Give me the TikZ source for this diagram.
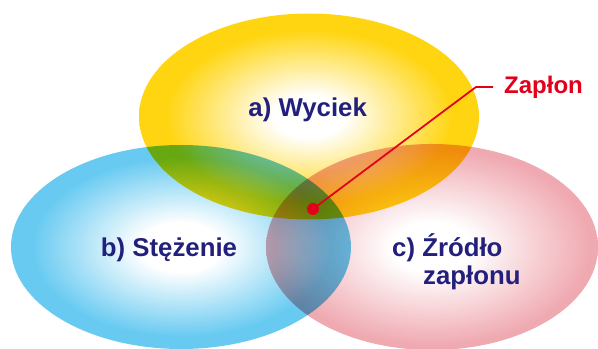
\documentclass[tikz,border=0pt]{standalone}
\usepackage{fontspec}
\setmainfont{Liberation Sans}
\usetikzlibrary{positioning}

\definecolor{sunyellow}{RGB}{255,210,0}
\definecolor{skyblue}{RGB}{92,198,240}
\definecolor{rosepink}{RGB}{238,162,170}
\definecolor{inknavy}{RGB}{34,32,124}
\definecolor{alarmred}{RGB}{226,0,26}

\pgfdeclareradialshading{yellowglow}{\pgfpoint{0bp}{0bp}}{color(0bp)=(white); color(5bp)=(white); color(21bp)=(sunyellow); color(25bp)=(sunyellow); color(50bp)=(sunyellow)}
\pgfdeclareradialshading{blueglow}{\pgfpoint{0bp}{0bp}}{color(0bp)=(white); color(6bp)=(white); color(22bp)=(skyblue); color(25bp)=(skyblue); color(50bp)=(skyblue)}
\pgfdeclareradialshading{pinkglow}{\pgfpoint{0bp}{0bp}}{color(0bp)=(white); color(6bp)=(white); color(24bp)=(rosepink); color(25bp)=(rosepink); color(50bp)=(rosepink)}

\tikzset{
  blob/.style={blend mode=multiply, opacity=0.93},
  tag/.style={text=inknavy, font=\bfseries\fontsize{22}{26}\selectfont},
  alarm/.style={text=alarmred, font=\bfseries\fontsize{20.5}{24}\selectfont}
}

\begin{document}
\begin{tikzpicture}
    \useasboundingbox (0,0) rectangle (17.94,10.47);

    % Three overlapping fields
    \shade[blob, shading=blueglow] (5.43,3.06) ellipse (5.1 and 3.06);
    \shade[blob, shading=yellowglow] (9.27,6.975) ellipse (5.1 and 3.09);
    \shade[blob, shading=pinkglow] (12.96,3.06) ellipse (4.98 and 3.09);

    % Labels
    \node[tag, anchor=base] (leak) at (9.23,6.96) {a) Wyciek};
    \node[tag, anchor=base] (conc) at (5.07,2.76) {b) Stężenie};
    \node[tag, anchor=base west, inner sep=0pt] (source) at (11.76,2.76) {c) Źródło};
    \node[tag, anchor=base west, inner sep=0pt] (source2) at (12.69,1.92) {zapłonu};

    % Ignition point
    \node[circle, fill=alarmred, inner sep=0pt, minimum size=0.36cm] (dot) at (9.39,4.2) {};
    \coordinate (bend) at (14.28,7.86);
    \node[alarm, right=0.72cm of bend] (ignition) {Zapłon};
    \draw[alarmred, line width=1.5pt, shorten >=0.21cm] (dot.center) -- (bend) -- (ignition.west);
\end{tikzpicture}
\end{document}
